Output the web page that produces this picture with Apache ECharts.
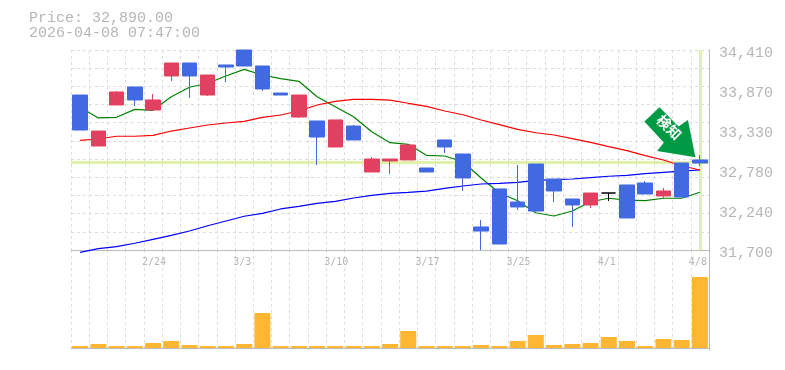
<!DOCTYPE html>
<html><head><meta charset="utf-8">
<style>html,body{margin:0;padding:0;background:#fff}#c{width:785px;height:370px}</style>
<script src="https://cdn.jsdelivr.net/npm/echarts@6/dist/echarts.min.js"></script>
</head><body><div id="c"></div>
<script>
const titleLines = ['Price: 32,890.00', '2026-04-08 07:47:00'];
const lastPrice = 32890;
const dates = ['2/17','2/18','2/19','2/20','2/24','2/25','2/26','2/27','3/2','3/3','3/4','3/5','3/6','3/9','3/10','3/11','3/12','3/13','3/16','3/17','3/18','3/19','3/23','3/24','3/25','3/26','3/27','3/30','3/31','4/1','4/2','4/3','4/6','4/7','4/8'];
const labelledDates = ['2/24','3/3','3/10','3/17','3/25','4/1','4/8'];
const priceTicks = [31700, 32240, 32780, 33330, 33870, 34410];
// [open, close, low, high]
const candles = [
[33326,33800,33326,33800],[33312,33109,33109,33312],[33841,33665,33665,33855],[33733,33909,33651,33909],
[33733,33597,33597,33814],[34234,34058,33990,34234],[34058,34234,33760,34234],[34071,33800,33787,34071],
[34180,34207,33976,34207],[34193,34410,34193,34410],[33882,34193,33855,34193],[33800,33827,33800,33827],
[33800,33502,33489,33800],[33231,33448,32852,33448],[33462,33096,33096,33462],[33191,33380,33191,33394],
[32933,32757,32757,32960],[32933,32906,32730,32933],[33123,32920,32920,33123],[32757,32811,32757,32811],
[33096,33191,33014,33191],[32676,33001,32500,33001],[31957,32012,31700,32107],[31781,32527,31781,32527],
[32283,32350,32242,32852],[32228,32865,32228,32865],[32500,32662,32350,32662],[32310,32391,32012,32391],
[32472,32310,32269,32472],[32472,32472,32364,32472],[32134,32581,32134,32581],[32459,32608,32459,32635],
[32500,32432,32405,32540],[32418,32879,32418,32879],[32879,32920,32838,32987]
];
const maShort = [33634,33489,33498,33606,33593,33777,33905,33959,34058,34148,34071,34021,33986,33777,33642,33506,33303,33154,33132,32983,32974,32896,32676,32472,32368,32205,32161,32228,32354,32401,32377,32368,32401,32401,32482];
const maMid = [33186,33204,33241,33241,33254,33312,33353,33394,33421,33444,33498,33529,33583,33665,33715,33742,33742,33732,33688,33647,33583,33533,33461,33398,33335,33289,33258,33208,33159,33100,33046,32978,32919,32842,32784];
const maLong = [31669,31718,31745,31791,31845,31899,31957,32029,32093,32157,32197,32256,32292,32333,32360,32405,32441,32468,32482,32499,32536,32567,32594,32604,32617,32644,32653,32662,32680,32699,32712,32734,32753,32770,32784];
const volumes = [2,4,2,2,5,7,3,2,2,4,35,2,2,2,2,2,2,4,17,2,2,2,3,2,7,13,3,4,5,11,7,2,9,8,71];
const arrowText = '検知';

const GRAY='#b6b6b6', AXIS='#bbbbbb', GRID='#dddddd', MONO='"Liberation Mono", monospace';
const gridDash={color:GRID,width:1,type:[3,3]};
const mkLine=(name,data,color)=>({name,type:'line',data,xAxisIndex:0,yAxisIndex:0,symbol:'none',clip:false,z:2,silent:true,
  lineStyle:{color,width:1.2},itemStyle:{color}});
const pad=s=>s.length<4?s+' ':s;
const chart=echarts.init(document.getElementById('c'),null,{renderer:'canvas'});
chart.setOption({
 animation:false,backgroundColor:'#fff',
 title:{text:titleLines.join('\n'),left:29,top:11,padding:0,textStyle:{fontFamily:MONO,fontWeight:'normal',fontSize:15,lineHeight:15,color:GRAY}},
 grid:[{left:71,top:50,width:638,height:200},{left:71,top:250,width:638,height:100}],
 xAxis:[
  {type:'category',gridIndex:0,data:dates,boundaryGap:true,axisTick:{show:false},
   axisLine:{show:true,lineStyle:{color:AXIS,width:1}},
   splitLine:{show:true,interval:0,lineStyle:gridDash},
   axisLabel:{show:true,interval:(i,v)=>labelledDates.includes(v),formatter:pad,margin:7,padding:[0,0,0,2],fontFamily:'"DejaVu Sans Mono", monospace',fontSize:10,color:GRAY,hideOverlap:false}},
  {type:'category',gridIndex:1,data:dates,boundaryGap:true,axisTick:{show:false},
   axisLine:{show:true,lineStyle:{color:AXIS,width:1}},
   splitLine:{show:true,interval:0,lineStyle:gridDash},axisLabel:{show:false}}
 ],
 yAxis:[
  {type:'value',gridIndex:0,position:'right',min:31700,max:34410,scale:true,
   axisLine:{show:true,onZero:false,lineStyle:{color:AXIS,width:1}},axisTick:{show:false},splitLine:{show:false},
   axisLabel:{show:true,customValues:priceTicks,margin:10,verticalAlign:'top',lineHeight:6,fontFamily:MONO,fontSize:15,color:GRAY,formatter:v=>v.toLocaleString('en-US')}},
  {type:'value',gridIndex:0,position:'left',min:0,max:11,interval:1,axisLine:{show:false},axisTick:{show:false},axisLabel:{show:false},
   splitLine:{show:true,lineStyle:gridDash}},
  {type:'value',gridIndex:1,position:'right',min:-2,max:98,axisLine:{show:true,onZero:false,lineStyle:{color:AXIS,width:1}},axisTick:{show:false},axisLabel:{show:false},splitLine:{show:false}}
 ],
 series:[
  {name:'guide',type:'line',data:[],xAxisIndex:0,yAxisIndex:0,symbol:'none',z:1,silent:true,
   markLine:{silent:true,symbol:'none',z:1,label:{show:false},animation:false,
    lineStyle:{color:'#e0f2a8',width:3,type:'solid'},
    data:[{yAxis:lastPrice},{xAxis:dates[dates.length-1]}]}},
  mkLine('short',maShort,'#008000'),
  mkLine('long',maLong,'#0000ff'),
  mkLine('mid',maMid,'#ff0000'),
  {name:'price',type:'candlestick',data:candles,xAxisIndex:0,yAxisIndex:0,barWidth:15,z:3,silent:true,
   itemStyle:{color:'#4169e1',borderColor:'#4169e1',color0:'#e24060',borderColor0:'#e24060',borderColorDoji:'#000000',borderWidth:1},
   markPoint:{silent:true,animation:false,z:6,
    data:[{coord:[dates[dates.length-1],lastPrice],
      symbol:'path://M0 14.4 L15 0 L34 19.4 L43.3 12.7 L50.7 50 L12.7 43.7 L19.3 35.4 Z',
      symbolSize:[51,50],symbolOffset:[-30,-30],
      itemStyle:{color:'#009944'},
      label:{show:true,position:'inside',formatter:arrowText,offset:[-4,-3],rotate:-45,color:'#fff',fontSize:14,fontWeight:'bold',fontFamily:'"Noto Sans CJK JP"'}}]}},
  {name:'volume',type:'bar',data:volumes,xAxisIndex:1,yAxisIndex:2,barWidth:16,silent:true,itemStyle:{color:'#ffb733'}}
 ]
});
</script></body></html>
